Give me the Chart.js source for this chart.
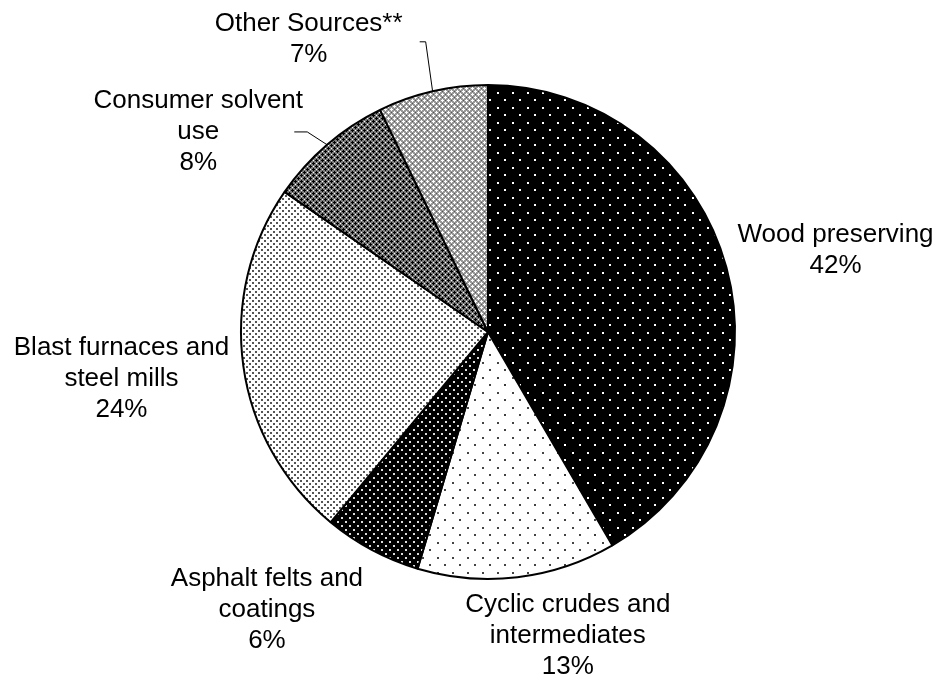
<!DOCTYPE html>
<html>
<head>
<meta charset="utf-8">
<title>Sources pie</title>
<script src="https://cdn.jsdelivr.net/npm/chart.js@4.4.0/dist/chart.umd.min.js"></script>
<style>
  body { margin: 0; background: #fff; }
  canvas { display: block; }
</style>
</head>
<body>
<canvas id="myChart" width="940" height="685"></canvas>
<script>
// slice names (one line per array entry) and shares, clockwise from 12 o'clock
var categories = [
    ['Wood preserving'],
    ['Cyclic crudes and', 'intermediates'],
    ['Asphalt felts and', 'coatings'],
    ['Blast furnaces and', 'steel mills'],
    ['Consumer solvent', 'use'],
    ['Other Sources**']
];
var shares = [41.6, 13.0, 6.4, 23.6, 8.2, 7.2];

// where each label block sits, relative to pie centre, in radius units
var labelPos = [
    [1.407, -0.329],
    [0.323, 1.230],
    [-0.895, 1.125],
    [-1.484, 0.190],
    [-1.173, -0.810],
    [-0.726, -1.183]
];
// leader lines: start offset from label centre + length of the flat bit
var leaders = [null, null, null, null, {dx: 96, dy: 0, flat: 13}, {dx: 111, dy: 2, flat: 6}];

function makePattern(w, h, bg, px) {
    var c = document.createElement('canvas');
    c.width = w; c.height = h;
    var g = c.getContext('2d');
    g.fillStyle = bg;
    g.fillRect(0, 0, w, h);
    px.forEach(function(p) {
        g.fillStyle = p[4];
        g.fillRect(p[0], p[1], p[2], p[3]);
    });
    return g.createPattern(c, 'repeat');
}

function plus(x, y, col) {
    return [[x, y - 1, 1, 3, col], [x - 1, y, 3, 1, col]];
}

var fills = [
    // wood preserving: black, sparse white dots
    makePattern(15, 15, '#000', [[2, 2, 2, 2, '#fff'], [9, 9, 2, 2, '#fff']]),
    // cyclic crudes: white, sparse dark dots
    makePattern(15, 15, '#fff', [[2, 2, 2, 2, '#444'], [9, 9, 2, 2, '#444']]),
    // asphalt: black, dense white dots
    makePattern(8, 8, '#000', [[1, 1, 2, 2, '#ddd'], [5, 5, 2, 2, '#ddd']]),
    // blast furnaces: white, dense dark dots
    makePattern(6, 6, '#fff', [[0, 0, 2, 2, '#555'], [3, 3, 2, 2, '#555']]),
    // consumer solvent: dark grey cross hatch
    makePattern(6, 6, '#7a7a7a', [].concat(plus(1, 1, '#000'), plus(4, 4, '#000'),
        [[4, 1, 1, 1, '#fff'], [1, 4, 1, 1, '#fff']])),
    // other sources: light grey cross hatch
    makePattern(6, 6, '#999', [].concat(plus(1, 1, '#fff'), plus(4, 4, '#fff'),
        [[4, 1, 1, 1, '#555'], [1, 4, 1, 1, '#555']]))
];

var labelPlugin = {
    id: 'sliceLabels',
    afterDatasetsDraw: function(chart) {
        var ctx = chart.ctx;
        var arcs = chart.getDatasetMeta(0).data;
        var total = shares.reduce(function(a, b) { return a + b; }, 0);
        ctx.save();
        ctx.font = '26px "Liberation Sans", Arial, sans-serif';
        ctx.fillStyle = '#000';
        ctx.textAlign = 'center';
        ctx.textBaseline = 'middle';
        var lh = 31;
        arcs.forEach(function(arc, i) {
            var r = arc.outerRadius;
            var lx = arc.x + labelPos[i][0] * r;
            var ly = arc.y + labelPos[i][1] * r;
            var lines = categories[i].concat([Math.round(shares[i] / total * 100) + '%']);
            var top = ly - (lines.length - 1) * lh / 2;
            lines.forEach(function(t, k) {
                ctx.fillText(t, lx, top + k * lh);
            });
            var ld = leaders[i];
            if (ld) {
                var mid = (arc.startAngle + arc.endAngle) / 2;
                var ex = arc.x + Math.cos(mid) * r;
                var ey = arc.y + Math.sin(mid) * r;
                var sx = lx + ld.dx, sy = ly + ld.dy;
                ctx.beginPath();
                ctx.strokeStyle = '#000';
                ctx.lineWidth = 1;
                ctx.moveTo(sx, sy);
                ctx.lineTo(sx + ld.flat, sy);
                ctx.lineTo(ex, ey);
                ctx.stroke();
            }
        });
        ctx.restore();
    }
};

var ctx = document.getElementById('myChart').getContext('2d');
var myPieChart = new Chart(ctx, {
    type: 'pie',
    data: {
        labels: categories.map(function(l) { return l.join(' '); }),
        datasets: [{
            data: shares,
            backgroundColor: fills,
            borderColor: '#000',
            borderWidth: 2
        }]
    },
    options: {
        responsive: false,
        animation: false,
        layout: { padding: { top: 84, bottom: 105, left: 36, right: 0 } },
        plugins: {
            legend: { display: false },
            tooltip: { enabled: false }
        }
    },
    plugins: [labelPlugin]
});
</script>
</body>
</html>
